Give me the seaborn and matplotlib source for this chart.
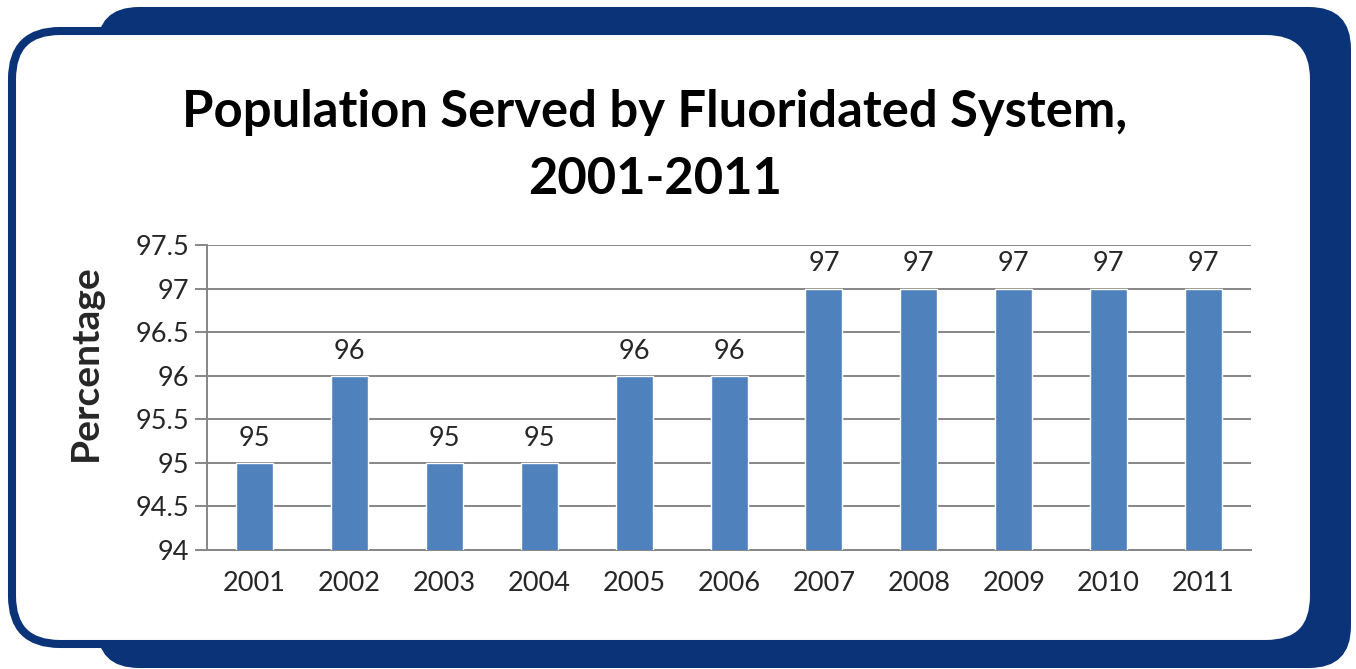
import matplotlib
matplotlib.use('Agg')
import matplotlib.pyplot as plt
import seaborn as sns
import pandas as pd
from matplotlib.patches import FancyBboxPatch

# data
years = ['2001', '2002', '2003', '2004', '2005', '2006',
         '2007', '2008', '2009', '2010', '2011']
percent = [95, 96, 95, 95, 96, 96, 97, 97, 97, 97, 97]
yticks = [94, 94.5, 95, 95.5, 96, 96.5, 97, 97.5]
ytick_labels = ['94', '94.5', '95', '95.5', '96', '96.5', '97', '97.5']

df = pd.DataFrame({'Year': years, 'Percentage': percent})

sns.set_style('white')
plt.rcParams['font.family'] = ['Lato', 'DejaVu Sans']

navy = '#0B3478'
bar_blue = '#4F81BD'
grid_gray = '#868686'

fig = plt.figure(figsize=(13.56, 6.69), dpi=100)

# background frame, drawn in pixel units
bg = fig.add_axes([0, 0, 1, 1], zorder=-1)
bg.set_xlim(0, 1356)
bg.set_ylim(669, 0)
bg.axis('off')
bg.add_patch(FancyBboxPatch((97, 7), 1254, 661,
                            boxstyle='round,pad=0,rounding_size=42',
                            facecolor=navy, edgecolor='none'))
bg.add_patch(FancyBboxPatch((12, 31), 1302, 613,
                            boxstyle='round,pad=0,rounding_size=48',
                            facecolor='white', edgecolor=navy, linewidth=5.8))
bg.text(655, 146, 'Population Served by Fluoridated System,\n2001-2011',
        ha='center', va='center', fontsize=36.5, fontweight='bold',
        linespacing=1.55, color='black')

ax = fig.add_axes([0.1527, 0.1779, 0.7699, 0.4559])
sns.barplot(data=df, x='Year', y='Percentage', color=bar_blue,
            width=0.39, saturation=1, ax=ax, zorder=3)

ax.set_ylim(94, 97.5)
ax.set_xlim(-0.5, len(years) - 0.5)
ax.set_yticks(yticks)
ax.set_yticklabels(ytick_labels)
ax.yaxis.grid(True, color=grid_gray, linewidth=1.4, zorder=0)
ax.set_axisbelow(True)

for s in ['top', 'right']:
    ax.spines[s].set_visible(False)
for s in ['left', 'bottom']:
    ax.spines[s].set_color(grid_gray)
    ax.spines[s].set_linewidth(1.4)

# tick marks sit between categories like in Excel
ax.set_xticks([i - 0.5 for i in range(len(years) + 1)], minor=True)
ax.tick_params(axis='x', which='major', length=0, pad=15, labelsize=19.5)
ax.tick_params(axis='x', which='minor', length=7, width=1.4, color=grid_gray,
               direction='out')
ax.tick_params(axis='y', length=9, width=1.4, color=grid_gray, pad=4,
               labelsize=19.5, left=True)

ax.set_xlabel('')
ax.set_ylabel('Percentage', fontsize=28, fontweight='bold')
ax.yaxis.set_label_coords(-0.1, 0.613)

for i, v in enumerate(percent):
    ax.text(i, v + 0.14, str(v), ha='center', va='bottom', fontsize=19.5)

fig.savefig('out.png', dpi=100)
